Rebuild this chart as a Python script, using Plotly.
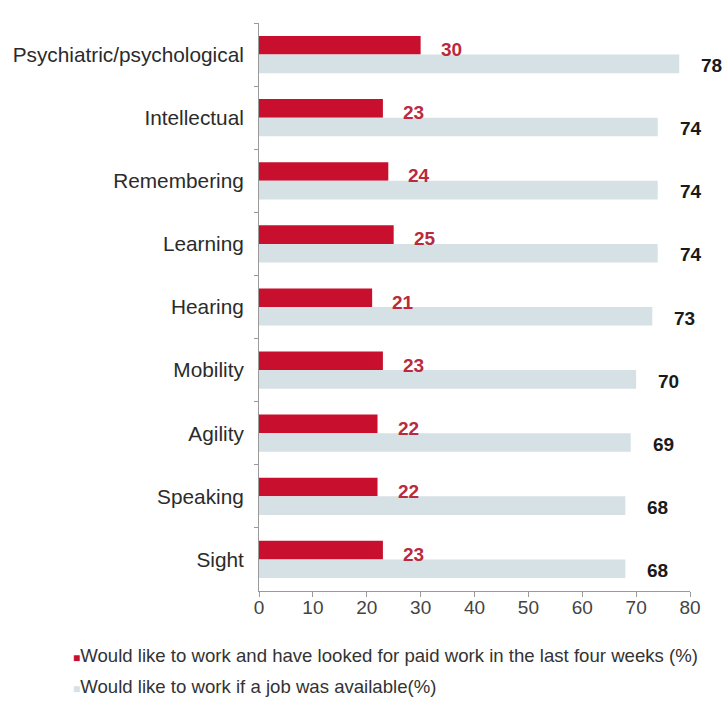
import plotly.graph_objects as go

# Disability types, top to bottom
categories = [
    "Psychiatric/psychological", "Intellectual", "Remembering", "Learning",
    "Hearing", "Mobility", "Agility", "Speaking", "Sight",
]
looked_for_work = [30, 23, 24, 25, 21, 23, 22, 22, 23]
would_like_work = [78, 74, 74, 74, 73, 70, 69, 68, 68]
series_names = [
    "Would like to work and have looked for paid work in the last four weeks (%)",
    "Would like to work if a job was available(%)",
]
x_ticks = [0, 10, 20, 30, 40, 50, 60, 70, 80]

RED = "#c8102e"
RED_TEXT = "#b92a3c"
GREY = "#d6e1e5"
FONT = "Liberation Sans, Arial, sans-serif"

W, H = 726, 727
ML, MR, MT, MB = 259, 36, 23, 136

fig = go.Figure()
fig.add_trace(go.Bar(y=categories, x=looked_for_work, orientation="h",
                     marker=dict(color=RED, line=dict(width=0)),
                     name=series_names[0], showlegend=False))
fig.add_trace(go.Bar(y=categories, x=would_like_work, orientation="h",
                     marker=dict(color=GREY, line=dict(width=0)),
                     name=series_names[1], showlegend=False))

annotations = []
for cat, v in zip(categories, looked_for_work):
    annotations.append(dict(x=v, y=cat, xref="x", yref="y", text=str(v),
                            showarrow=False, xanchor="left", xshift=18, yshift=5,
                            font=dict(family=FONT, size=19, color=RED_TEXT, weight="bold")))
for cat, v in zip(categories, would_like_work):
    annotations.append(dict(x=v, y=cat, xref="x", yref="y", text=str(v),
                            showarrow=False, xanchor="left", xshift=20, yshift=-11,
                            font=dict(family=FONT, size=19, color="#1a1a1a", weight="bold")))


def px_x(p):
    return (p - ML) / (W - ML - MR)


def px_y(p):
    return 1 - (p - MT) / (H - MT - MB)


# Legend lines under the chart
legend_colors = [RED, GREY]
legend_rows = [655, 686]
for name, col, yy in zip(series_names, legend_colors, legend_rows):
    annotations.append(dict(
        x=px_x(71), y=px_y(yy), xref="paper", yref="paper",
        xanchor="left", yanchor="middle", showarrow=False,
        text=f"<span style='color:{col};font-size:12px'>■</span>{name}",
        font=dict(family=FONT, size=18.6, color="#333333"),
    ))

fig.update_layout(
    width=W, height=H,
    margin=dict(l=ML, r=MR, t=MT, b=MB),
    paper_bgcolor="white", plot_bgcolor="white",
    barmode="group", bargap=0.41, bargroupgap=0,
    annotations=annotations,
    font=dict(family=FONT, color="#333333"),
)
fig.update_xaxes(range=[0, 80], tickvals=x_ticks, showgrid=False, zeroline=False,
                 showline=True, linecolor="#9a9a9a", linewidth=1,
                 ticks="outside", ticklen=5, tickcolor="#9a9a9a",
                 ticklabelstandoff=-6,
                 tickfont=dict(family=FONT, size=19, color="#444444"))
fig.update_yaxes(autorange="reversed", showgrid=False, zeroline=False,
                 showline=True, linecolor="#9a9a9a", linewidth=1,
                 ticks="outside", ticklen=4, tickcolor="#9a9a9a", tickson="boundaries",
                 ticklabelstandoff=10,
                 tickfont=dict(family=FONT, size=20.8, color="#2b2b2b"))

fig.write_html("out.html")
